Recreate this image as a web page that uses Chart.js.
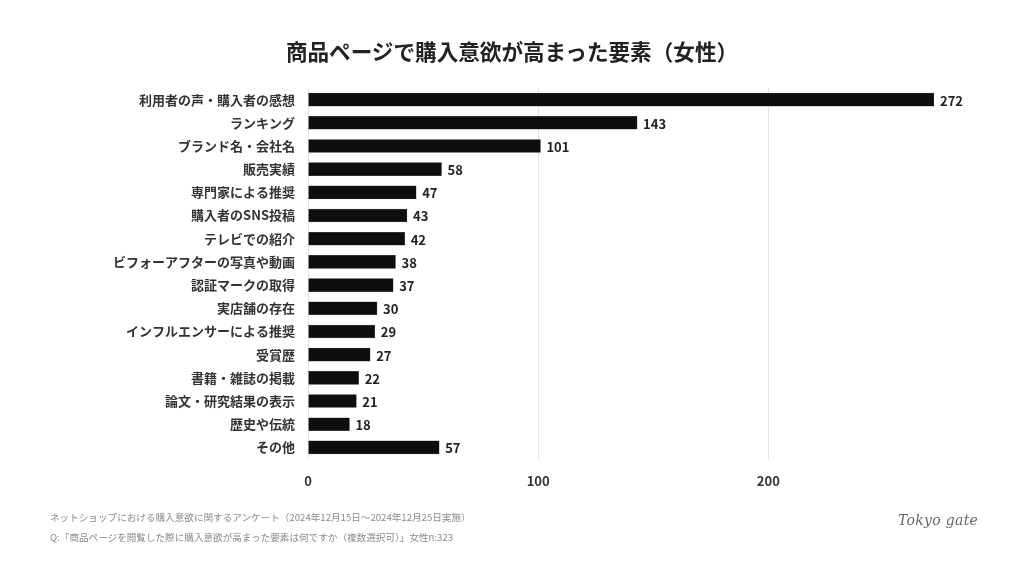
<!DOCTYPE html>
<html lang="ja">
<head>
<meta charset="utf-8">
<script src="https://cdn.jsdelivr.net/npm/chart.js@4.4.1/dist/chart.umd.min.js"></script>
<style>
  html, body { margin: 0; padding: 0; background: #fff; }
  #wrap { position: relative; width: 1024px; height: 576px; font-family: "Noto Sans CJK JP", "Noto Sans", sans-serif; }
  #title { position: absolute; top: 35px; left: 0; width: 1024px; text-align: center; font-size: 21.6px; font-weight: 700; color: #222; }
  .note { position: absolute; left: 50px; font-size: 9.6px; color: #8a8a8a; }
  #logo { position: absolute; left: 898px; top: 512px; font-family: "DejaVu Serif", serif; font-style: italic; font-size: 14px; color: #666; letter-spacing: 0.3px; }
</style>
</head>
<body>
<div id="wrap">
  <canvas id="chart" width="1024" height="576"></canvas>
  <div id="title">商品ページで購入意欲が高まった要素（女性）</div>
  <div class="note" style="top:510px">ネットショップにおける購入意欲に関するアンケート（2024年12月15日〜2024年12月25日実施）</div>
  <div class="note" style="top:530px">Q:「商品ページを閲覧した際に購入意欲が高まった要素は何ですか（複数選択可）」女性n:323</div>
  <div id="logo">Tokyo gate</div>
</div>
<script>
const categories = [
  '利用者の声・購入者の感想', 'ランキング', 'ブランド名・会社名', '販売実績',
  '専門家による推奨', '購入者のSNS投稿', 'テレビでの紹介', 'ビフォーアフターの写真や動画',
  '認証マークの取得', '実店舗の存在', 'インフルエンサーによる推奨', '受賞歴',
  '書籍・雑誌の掲載', '論文・研究結果の表示', '歴史や伝統', 'その他'
]
const counts = [272, 143, 101, 58, 47, 43, 42, 38, 37, 30, 29, 27, 22, 21, 18, 57]
const xTicks = [0, 100, 200]

const fontFamily = '"Noto Sans CJK JP", "Noto Sans", sans-serif'

// Draw the value next to each bar
const valueLabels = {
  id: 'valueLabels',
  afterDatasetsDraw(chart) {
    const ctx = chart.ctx
    const meta = chart.getDatasetMeta(0)
    ctx.save()
    ctx.font = `700 13px ${fontFamily}`
    ctx.fillStyle = '#222'
    ctx.textAlign = 'left'
    ctx.textBaseline = 'middle'
    meta.data.forEach((bar, i) => {
      ctx.fillText(String(counts[i]), bar.x + 6, bar.y + 1)
    })
    ctx.restore()
  }
}

new Chart(document.getElementById('chart'), {
  type: 'bar',
  data: {
    labels: categories,
    datasets: [{
      data: counts,
      backgroundColor: '#0e0e0e',
      borderColor: '#555',
      borderWidth: 0.5,
      barThickness: 13
    }]
  },
  options: {
    indexAxis: 'y',
    responsive: false,
    animation: false,
    layout: { padding: { top: 88, right: 90, bottom: 77, left: 0 } },
    plugins: {
      legend: { display: false },
      tooltip: { enabled: false }
    },
    scales: {
      x: {
        min: 0,
        max: 272,
        afterBuildTicks(scale) {
          scale.ticks = xTicks.map(v => ({ value: v }))
        },
        afterFit(scale) { scale.height = 40 },
        grid: { color: '#e2e2e2', lineWidth: 1, drawTicks: false },
        border: { display: false },
        ticks: {
          padding: 14,
          color: '#333',
          font: { family: fontFamily, size: 13, weight: '700' }
        }
      },
      y: {
        afterFit(scale) { scale.width = 308 },
        grid: { display: false, drawTicks: false },
        border: { display: false },
        ticks: {
          padding: 13,
          color: '#333',
          font: { family: fontFamily, size: 13, weight: '700' }
        }
      }
    }
  },
  plugins: [valueLabels]
})
</script>
</body>
</html>
